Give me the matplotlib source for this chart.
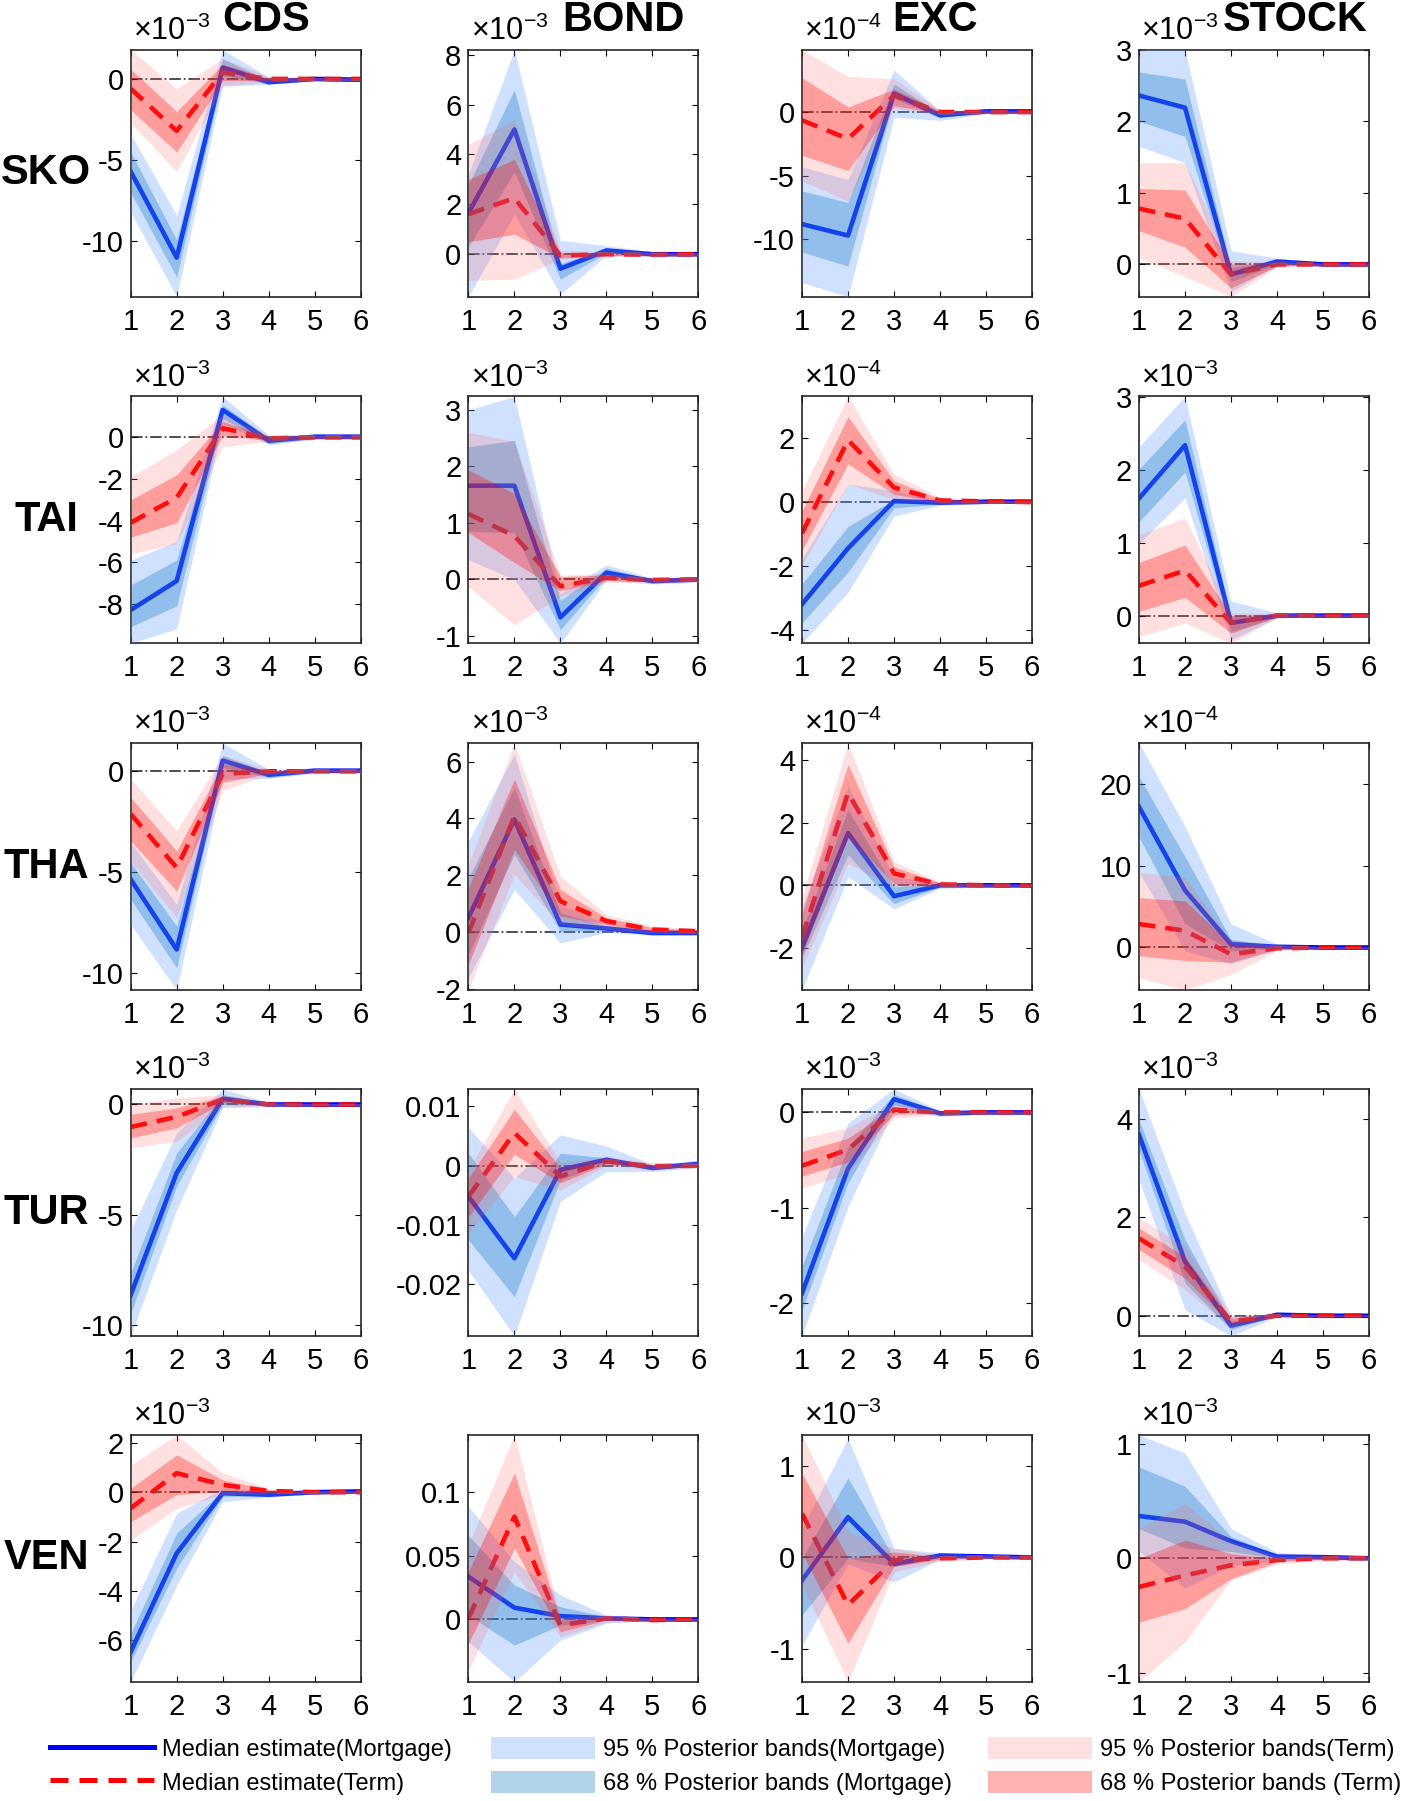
import numpy as np
import matplotlib
matplotlib.use("Agg")
import matplotlib.pyplot as plt
from matplotlib.lines import Line2D
from matplotlib.patches import Patch

plt.rcParams["font.family"] = ["Liberation Sans", "DejaVu Sans"]
plt.rcParams["mathtext.fontset"] = "custom"
plt.rcParams["mathtext.rm"] = "Liberation Sans"
plt.rcParams["axes.unicode_minus"] = False

horizon = [1, 2, 3, 4, 5, 6]
countries = ["SKO", "TAI", "THA", "TUR", "VEN"]
variables = ["CDS", "BOND", "EXC", "STOCK"]

# each block: median, 68% low, 68% high, 95% low, 95% high (in units of 10^exp)
sko_cds_mort = [[-5.7, -11.0, 0.7, -0.2, 0.0, -0.05],
                [-7.0, -12.2, 0.2, -0.3, -0.05, -0.1],
                [-4.5, -9.9, 1.25, -0.1, 0.05, 0.0],
                [-8.2, -13.4, -0.4, -0.35, -0.1, -0.15],
                [-3.4, -8.4, 1.8, 0.1, 0.1, 0.05]]
sko_cds_term = [[-0.6, -3.2, 0.4, 0.0, 0.0, 0.0],
                [-1.9, -4.5, -0.1, -0.1, -0.05, -0.05],
                [0.6, -2.0, 0.9, 0.05, 0.05, 0.05],
                [-2.7, -5.7, -0.5, -0.15, -0.1, -0.08],
                [1.8, -0.6, 1.25, 0.15, 0.1, 0.08]]
sko_bond_mort = [[1.65, 5.0, -0.58, 0.15, 0.0, 0.0],
                 [0.3, 3.3, -1.0, 0.05, -0.05, -0.03],
                 [2.8, 6.6, -0.38, 0.25, 0.05, 0.03],
                 [-1.7, 1.6, -1.6, -0.05, -0.1, -0.06],
                 [3.2, 8.2, 0.55, 0.35, 0.1, 0.06]]
sko_bond_term = [[1.6, 2.25, -0.05, 0.0, -0.02, 0.0],
                 [0.5, 0.8, -0.15, -0.05, -0.05, -0.03],
                 [3.0, 3.8, 0.05, 0.05, 0.02, 0.03],
                 [-1.05, -1.0, -0.2, -0.1, -0.08, -0.05],
                 [4.4, 5.4, 0.15, 0.1, 0.05, 0.05]]
sko_exc_mort = [[-8.8, -9.7, 1.45, -0.26, 0.05, 0.05],
                [-11.0, -12.1, 1.05, -0.4, -0.05, -0.05],
                [-6.2, -7.1, 2.2, -0.1, 0.15, 0.1],
                [-13.4, -14.5, -0.4, -0.65, -0.15, -0.1],
                [-4.3, -5.3, 3.3, 0.1, 0.2, 0.15]]
sko_exc_term = [[-0.65, -2.1, 1.3, 0.0, 0.0, 0.0],
                [-3.4, -4.6, 0.5, -0.1, -0.05, -0.05],
                [2.7, 0.4, 1.8, 0.1, 0.05, 0.05],
                [-5.4, -7.0, 0.3, -0.2, -0.1, -0.08],
                [4.9, 2.8, 2.6, 0.15, 0.1, 0.08]]
sko_stock_mort = [[2.36, 2.19, -0.14, 0.04, 0.0, 0.0],
                  [2.0, 1.79, -0.24, 0.0, -0.01, -0.01],
                  [2.69, 2.59, -0.05, 0.06, 0.01, 0.01],
                  [1.65, 1.42, -0.38, -0.02, -0.02, -0.02],
                  [3.0, 3.0, 0.19, 0.09, 0.02, 0.02]]
sko_stock_term = [[0.78, 0.64, -0.14, 0.0, 0.0, 0.0],
                  [0.47, 0.24, -0.33, -0.02, -0.01, -0.01],
                  [1.06, 1.04, 0.0, 0.02, 0.01, 0.01],
                  [0.09, -0.17, -0.45, -0.04, -0.02, -0.02],
                  [1.42, 1.42, 0.05, 0.03, 0.02, 0.02]]

tai_cds_mort = [[-8.3, -6.9, 1.32, -0.16, 0.03, 0.03],
                [-9.1, -8.1, 0.92, -0.3, -0.05, -0.05],
                [-7.1, -5.9, 1.56, 0.0, 0.1, 0.1],
                [-9.9, -9.2, 0.68, -0.35, -0.1, -0.1],
                [-5.9, -5.0, 1.97, 0.1, 0.15, 0.15]]
tai_cds_term = [[-4.1, -2.9, 0.44, -0.05, 0.0, 0.0],
                [-4.8, -4.1, 0.1, -0.15, -0.05, -0.05],
                [-3.0, -1.8, 0.76, 0.05, 0.05, 0.05],
                [-5.6, -5.1, -0.45, -0.2, -0.1, -0.08],
                [-1.9, -0.6, 1.08, 0.1, 0.1, 0.08]]
tai_bond_mort = [[1.66, 1.66, -0.67, 0.12, -0.03, 0.0],
                 [0.85, 0.83, -0.89, 0.05, -0.06, -0.03],
                 [2.35, 2.46, -0.37, 0.2, 0.0, 0.03],
                 [0.35, 0.0, -1.13, -0.01, -0.08, -0.05],
                 [3.0, 3.24, -0.25, 0.26, 0.02, 0.05]]
tai_bond_term = [[1.16, 0.77, -0.12, 0.03, -0.01, 0.0],
                 [0.83, 0.3, -0.2, -0.02, -0.04, -0.02],
                 [1.94, 1.52, 0.05, 0.08, 0.02, 0.02],
                 [-0.13, -0.8, -0.3, -0.05, -0.06, -0.04],
                 [2.6, 2.45, 0.08, 0.1, 0.04, 0.04]]
tai_exc_mort = [[-3.18, -1.44, 0.03, -0.02, 0.01, 0.01],
                [-3.76, -2.18, -0.18, -0.06, -0.02, -0.02],
                [-2.55, -0.76, 0.08, 0.03, 0.03, 0.03],
                [-4.4, -2.81, -0.44, -0.1, -0.05, -0.04],
                [-1.76, 0.56, 0.35, 0.06, 0.05, 0.04]]
tai_exc_term = [[-0.97, 1.93, 0.45, 0.05, 0.02, 0.0],
                [-1.5, 1.19, 0.24, 0.0, -0.01, -0.02],
                [-0.28, 2.66, 0.66, 0.1, 0.05, 0.02],
                [-1.97, 0.56, 0.08, -0.03, -0.04, -0.04],
                [0.35, 3.29, 0.87, 0.14, 0.07, 0.04]]
tai_stock_mort = [[1.61, 2.34, -0.1, 0.0, 0.0, 0.0],
                  [1.29, 1.97, -0.22, -0.02, -0.01, -0.01],
                  [2.01, 2.69, -0.01, 0.02, 0.01, 0.01],
                  [0.99, 1.62, -0.33, -0.03, -0.02, -0.02],
                  [2.32, 3.01, 0.2, 0.04, 0.02, 0.02]]
tai_stock_term = [[0.41, 0.62, -0.1, 0.0, 0.0, 0.0],
                  [0.06, 0.25, -0.24, -0.02, -0.01, -0.01],
                  [0.73, 0.97, 0.0, 0.02, 0.01, 0.01],
                  [-0.29, -0.1, -0.38, -0.03, -0.02, -0.02],
                  [1.11, 1.34, 0.04, 0.03, 0.02, 0.02]]

tha_cds_mort = [[-5.36, -8.84, 0.53, -0.17, 0.03, 0.03],
                [-6.35, -9.75, 0.2, -0.3, -0.05, -0.05],
                [-4.53, -7.68, 0.78, -0.05, 0.1, 0.1],
                [-7.6, -10.85, -0.38, -0.35, -0.1, -0.1],
                [-3.53, -6.6, 1.4, 0.1, 0.15, 0.15]]
tha_cds_term = [[-2.12, -4.78, -0.13, 0.0, 0.0, 0.0],
                [-3.45, -5.94, -0.55, -0.1, -0.05, -0.05],
                [-1.29, -3.95, 0.36, 0.05, 0.05, 0.05],
                [-4.45, -7.26, -0.96, -0.15, -0.1, -0.08],
                [-0.38, -2.95, 0.78, 0.1, 0.1, 0.08]]
tha_bond_mort = [[0.49, 3.96, 0.26, 0.12, -0.04, -0.04],
                 [-0.8, 2.73, 0.02, 0.05, -0.08, -0.07],
                 [1.9, 5.08, 0.67, 0.2, 0.0, 0.0],
                 [-1.62, 1.49, -0.39, -0.02, -0.12, -0.1],
                 [3.2, 6.26, 0.96, 0.3, 0.05, 0.04]]
tha_bond_term = [[-0.04, 4.08, 1.08, 0.38, 0.08, 0.02],
                 [-1.15, 2.9, 0.55, 0.26, 0.02, -0.02],
                 [1.55, 5.38, 1.49, 0.49, 0.15, 0.06],
                 [-2.05, 2.02, 0.26, 0.08, -0.04, -0.06],
                 [2.38, 6.65, 1.96, 0.61, 0.2, 0.1]]
tha_exc_mort = [[-1.99, 1.67, -0.35, 0.0, 0.0, 0.0],
                [-2.31, 0.97, -0.59, -0.05, -0.03, -0.02],
                [-1.45, 2.42, -0.05, 0.05, 0.03, 0.02],
                [-3.35, 0.27, -0.75, -0.1, -0.05, -0.04],
                [-0.7, 3.17, 0.27, 0.1, 0.05, 0.04]]
tha_exc_term = [[-1.67, 2.96, 0.38, 0.03, 0.0, 0.0],
                [-2.2, 1.56, 0.05, -0.02, -0.02, -0.02],
                [-0.91, 3.87, 0.59, 0.08, 0.03, 0.02],
                [-2.63, 0.7, -0.05, -0.05, -0.04, -0.03],
                [-0.38, 4.55, 0.75, 0.12, 0.05, 0.03]]
tha_stock_mort = [[17.2, 7.0, 0.41, 0.08, 0.0, 0.0],
                  [13.5, 2.9, -0.4, -0.1, -0.05, -0.05],
                  [20.9, 11.1, 1.0, 0.2, 0.05, 0.05],
                  [9.2, -0.4, -2.0, -0.3, -0.1, -0.1],
                  [25.0, 14.8, 2.9, 0.4, 0.1, 0.1]]
tha_stock_term = [[2.87, 2.05, -0.82, -0.1, 0.0, 0.0],
                  [-1.0, -1.6, -1.8, -0.2, -0.05, -0.05],
                  [6.1, 5.7, 0.4, 0.1, 0.05, 0.05],
                  [-3.7, -5.2, -3.3, -0.4, -0.1, -0.1],
                  [9.2, 8.6, 0.8, 0.3, 0.1, 0.1]]

tur_cds_mort = [[-8.64, -3.1, 0.26, 0.0, 0.0, 0.0],
                [-9.47, -3.7, 0.0, -0.05, -0.03, -0.03],
                [-7.65, -2.2, 0.45, 0.05, 0.03, 0.03],
                [-10.5, -4.77, -0.15, -0.1, -0.05, -0.05],
                [-5.7, -1.29, 0.7, 0.1, 0.05, 0.05]]
tur_cds_term = [[-1.02, -0.56, 0.23, 0.0, 0.0, 0.0],
                [-1.52, -1.06, 0.08, -0.03, -0.02, -0.02],
                [-0.45, -0.15, 0.38, 0.03, 0.02, 0.02],
                [-1.97, -1.67, -0.08, -0.06, -0.04, -0.04],
                [0.0, 0.3, 0.45, 0.06, 0.04, 0.04]]
tur_bond_mort = [[-0.0052, -0.0156, -0.0007, 0.001, -0.0004, 0.0003],
                 [-0.0125, -0.0221, -0.0024, 0.0005, -0.0007, 0.0],
                 [0.0021, -0.0086, 0.0021, 0.0013, -0.0001, 0.0006],
                 [-0.0176, -0.0287, -0.006, -0.001, -0.001, -0.0003],
                 [0.0064, -0.0021, 0.0052, 0.0033, 0.0002, 0.0009]]
tur_bond_term = [[-0.0052, 0.0055, -0.0018, 0.0007, -0.0001, 0.0],
                 [-0.0086, 0.0019, -0.0029, 0.0003, -0.0004, -0.0002],
                 [-0.0021, 0.0095, -0.0004, 0.0011, 0.0002, 0.0002],
                 [-0.0114, -0.0018, -0.0041, 0.0, -0.0007, -0.0004],
                 [-0.0007, 0.0129, 0.0005, 0.0015, 0.0005, 0.0004]]
tur_exc_mort = [[-1.9, -0.59, 0.14, -0.01, 0.0, 0.0],
                [-2.08, -0.74, 0.08, -0.03, -0.01, -0.01],
                [-1.62, -0.36, 0.19, 0.01, 0.01, 0.01],
                [-2.35, -0.99, 0.03, -0.04, -0.02, -0.02],
                [-1.31, -0.11, 0.246, 0.02, 0.02, 0.02]]
tur_exc_term = [[-0.56, -0.39, 0.03, 0.0, 0.0, 0.0],
                [-0.67, -0.52, -0.02, -0.01, -0.01, -0.01],
                [-0.41, -0.27, 0.06, 0.01, 0.01, 0.01],
                [-0.8, -0.64, -0.06, -0.02, -0.01, -0.01],
                [-0.27, -0.16, 0.1, 0.02, 0.01, 0.01]]
tur_stock_mort = [[3.67, 1.1, -0.2, 0.02, 0.0, 0.0],
                  [3.36, 0.66, -0.28, 0.0, -0.01, -0.01],
                  [3.97, 1.54, -0.11, 0.04, 0.01, 0.01],
                  [2.76, 0.12, -0.41, -0.02, -0.02, -0.02],
                  [4.6, 2.08, -0.01, 0.05, 0.02, 0.02]]
tur_stock_term = [[1.57, 1.0, -0.11, 0.0, 0.0, 0.0],
                  [1.34, 0.76, -0.18, -0.01, -0.01, -0.01],
                  [1.78, 1.2, -0.05, 0.01, 0.01, 0.01],
                  [1.14, 0.53, -0.25, -0.02, -0.02, -0.02],
                  [1.98, 1.41, 0.02, 0.02, 0.02, 0.02]]

ven_cds_mort = [[-6.46, -2.47, -0.04, -0.1, 0.0, 0.03],
                [-6.86, -3.08, -0.17, -0.15, -0.04, -0.02],
                [-5.72, -1.66, 0.05, -0.05, 0.04, 0.06],
                [-7.67, -3.76, -0.38, -0.2, -0.08, -0.05],
                [-4.77, -0.85, 0.16, 0.02, 0.07, 0.08]]
ven_cds_term = [[-0.65, 0.77, 0.3, 0.05, 0.0, 0.0],
                [-1.19, -0.1, 0.03, -0.02, -0.03, -0.02],
                [0.16, 1.51, 0.5, 0.1, 0.04, 0.03],
                [-1.93, -0.65, -0.1, -0.06, -0.05, -0.04],
                [1.1, 2.32, 0.77, 0.15, 0.06, 0.05]]
ven_bond_mort = [[0.0336, 0.0092, 0.0026, 0.0008, 0.0, 0.0],
                 [0.0034, -0.0202, -0.0045, -0.001, -0.0005, -0.0004],
                 [0.066, 0.027, 0.01, 0.002, 0.0005, 0.0004],
                 [-0.0176, -0.049, -0.0163, -0.003, -0.001, -0.0008],
                 [0.0887, 0.0454, 0.0192, 0.0034, 0.001, 0.0008]]
ven_bond_term = [[0.0008, 0.0808, -0.0045, 0.0008, -0.0005, 0.0],
                 [-0.019, 0.056, -0.0097, -0.0005, -0.001, -0.0005],
                 [0.0375, 0.115, -0.0005, 0.002, 0.0003, 0.0005],
                 [-0.04, 0.0375, -0.0136, -0.002, -0.0015, -0.001],
                 [0.0585, 0.145, 0.002, 0.0035, 0.0008, 0.001]]
ven_exc_mort = [[-0.25, 0.44, -0.07, 0.02, 0.01, 0.0],
                [-0.63, -0.01, -0.1, 0.0, 0.0, -0.01],
                [-0.01, 0.87, -0.01, 0.03, 0.02, 0.01],
                [-0.96, -0.07, -0.27, -0.02, -0.01, -0.02],
                [0.32, 1.3, 0.1, 0.05, 0.03, 0.02]]
ven_exc_term = [[0.48, -0.52, -0.03, -0.01, 0.0, 0.0],
                [0.05, -0.94, -0.1, -0.02, -0.01, -0.01],
                [0.92, -0.01, 0.06, 0.01, 0.01, 0.01],
                [-0.3, -1.36, -0.16, -0.04, -0.02, -0.02],
                [1.34, 0.28, 0.1, 0.02, 0.02, 0.02]]
ven_stock_mort = [[0.37, 0.32, 0.15, 0.015, 0.01, 0.0],
                  [0.26, 0.09, 0.06, 0.0, 0.0, -0.01],
                  [0.8, 0.63, 0.19, 0.03, 0.02, 0.01],
                  [0.06, -0.26, -0.06, -0.02, -0.01, -0.02],
                  [1.08, 0.92, 0.26, 0.05, 0.03, 0.02]]
ven_stock_term = [[-0.25, -0.15, -0.06, -0.015, 0.0, 0.0],
                  [-0.56, -0.44, -0.18, -0.03, -0.01, -0.01],
                  [0.0, 0.16, 0.04, 0.0, 0.01, 0.01],
                  [-1.08, -0.73, -0.19, -0.05, -0.02, -0.02],
                  [0.26, 0.48, 0.15, 0.02, 0.02, 0.02]]

# power of ten shown above each panel (0 = none)
exponents = [[-3, -3, -4, -3],
             [-3, -3, -4, -3],
             [-3, -3, -4, -4],
             [-3, 0, -3, -3],
             [-3, 0, -3, -3]]

yticks = [[[-10, -5, 0], [0, 2, 4, 6, 8], [-10, -5, 0], [0, 1, 2, 3]],
          [[-8, -6, -4, -2, 0, 2], [-1, 0, 1, 2, 3], [-4, -2, 0, 2], [0, 1, 2, 3]],
          [[-10, -5, 0], [-2, 0, 2, 4, 6], [-2, 0, 2, 4], [0, 10, 20]],
          [[-10, -5, 0], [-0.02, -0.01, 0, 0.01], [-2, -1, 0], [0, 2, 4]],
          [[-6, -4, -2, 0, 2], [0, 0.05, 0.1], [-1, 0, 1], [-1, 0, 1]]]

panels = [[(sko_cds_mort, sko_cds_term), (sko_bond_mort, sko_bond_term),
           (sko_exc_mort, sko_exc_term), (sko_stock_mort, sko_stock_term)],
          [(tai_cds_mort, tai_cds_term), (tai_bond_mort, tai_bond_term),
           (tai_exc_mort, tai_exc_term), (tai_stock_mort, tai_stock_term)],
          [(tha_cds_mort, tha_cds_term), (tha_bond_mort, tha_bond_term),
           (tha_exc_mort, tha_exc_term), (tha_stock_mort, tha_stock_term)],
          [(tur_cds_mort, tur_cds_term), (tur_bond_mort, tur_bond_term),
           (tur_exc_mort, tur_exc_term), (tur_stock_mort, tur_stock_term)],
          [(ven_cds_mort, ven_cds_term), (ven_bond_mort, ven_bond_term),
           (ven_exc_mort, ven_exc_term), (ven_stock_mort, ven_stock_term)]]

BLUE = "#0000ff"
RED = "#ff0000"
M95 = (0.4, 0.6, 1.0)
M68 = (0.0, 0.447, 0.741)
T95 = (1.0, 0.4, 0.4)
T68 = (1.0, 0.0, 0.0)
DASH = (0, (3.6, 2.2))

fig = plt.figure(figsize=(14.16, 18.01), dpi=100)

lefts = [0.0923, 0.3308, 0.5664, 0.8044]
bottoms = [0.8353, 0.6428, 0.4503, 0.2582, 0.0662]
width, height = 0.1624, 0.1371
title_x = [0.587, 0.672, 0.578, 0.681]


def draw_panel(ax, mort, term, exp, ticks):
    s = 10.0 ** exp
    m = np.array(mort) * s
    t = np.array(term) * s
    ax.axhline(0, color="0.25", lw=1.3, ls="-.", zorder=1)
    ax.plot(horizon, m[0], color=BLUE, lw=3.3, zorder=2)
    ax.plot(horizon, t[0], color=RED, lw=3.3, ls=DASH, zorder=2.1)
    ax.fill_between(horizon, m[3], m[4], color=M95, alpha=0.3, lw=0, zorder=3)
    ax.fill_between(horizon, m[1], m[2], color=M68, alpha=0.3, lw=0, zorder=3)
    ax.fill_between(horizon, t[3], t[4], color=T95, alpha=0.2, lw=0, zorder=3)
    ax.fill_between(horizon, t[1], t[2], color=T68, alpha=0.3, lw=0, zorder=3)

    ax.set_xticks(horizon)
    ax.set_yticks(np.array(ticks) * s, labels=["%g" % v for v in ticks])
    ax.set_xlim(1, 6)
    ax.set_ylim(min(m.min(), t.min()), max(m.max(), t.max()))
    ax.tick_params(direction="in", top=True, right=True, length=4,
                   width=0.8, labelsize=21)
    ax.tick_params(axis="x", pad=8)
    ax.tick_params(axis="y", pad=5)
    for sp in ax.spines.values():
        sp.set_linewidth(1.2)
        sp.set_color("0.15")
    if exp != 0:
        ax.text(0.01, 1.04, "\u00d7" + r"$\mathregular{10^{%d}}$" % exp,
                transform=ax.transAxes, ha="left", va="baseline", fontsize=22)


for i, country in enumerate(countries):
    for j, var in enumerate(variables):
        ax = fig.add_axes([lefts[j], bottoms[i], width, height])
        mort, term = panels[i][j]
        draw_panel(ax, mort, term, exponents[i][j], yticks[i][j])
        if i == 0:
            ax.text(title_x[j], 1.074, var, transform=ax.transAxes,
                    ha="center", va="baseline", fontsize=30, fontweight="bold")
    fig.text(0.0325, bottoms[i] + height / 2, country, ha="center",
             va="center", fontsize=30, fontweight="bold")

# legend, three blocks of two entries
blocks = [
    ([Line2D([], [], color=BLUE, lw=3.6),
      Line2D([], [], color=RED, lw=3.6, ls=DASH)],
     ["Median estimate(Mortgage)", "Median estimate(Term)"]),
    ([Patch(fc=M95, alpha=0.3, lw=0), Patch(fc=M68, alpha=0.3, lw=0)],
     ["95 % Posterior bands(Mortgage)", "68 % Posterior bands (Mortgage)"]),
    ([Patch(fc=T95, alpha=0.2, lw=0), Patch(fc=T68, alpha=0.3, lw=0)],
     ["95 % Posterior bands(Term)", "68 % Posterior bands (Term)"]),
]
for x, (hs, labs) in zip([0.0353, 0.3468, 0.6975], blocks):
    fig.legend(hs, labs, loc="center left", bbox_to_anchor=(x, 1 - 1766 / 1801),
               frameon=False, fontsize=17, handlelength=4.4, handleheight=1.05,
               handletextpad=0.35, labelspacing=0.4, borderpad=0,
               borderaxespad=0)

fig.savefig("out.png", dpi=100)
